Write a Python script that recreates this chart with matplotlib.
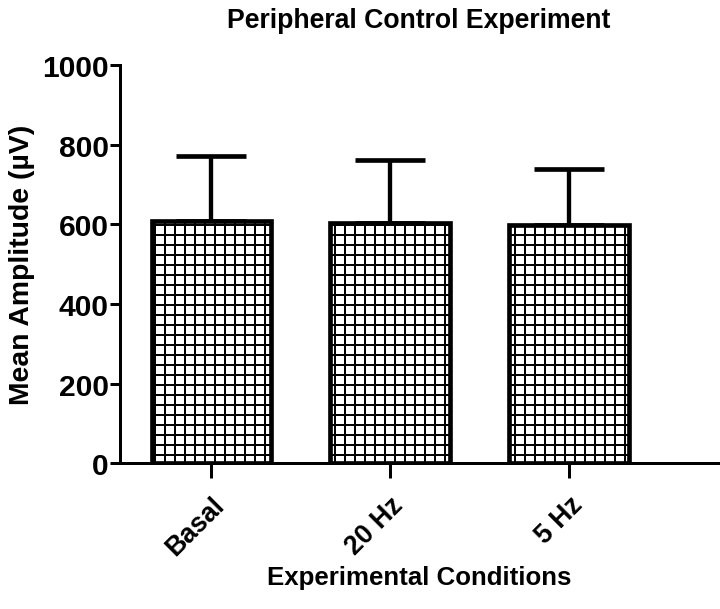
import numpy as np
from matplotlib import pyplot as plt

# values
conditions = ["Basal", "20 Hz", "5 Hz"]
means = [608, 603, 598]
sems = [163, 158, 141]

plt.rcParams['font.family'] = ['Liberation Sans', 'DejaVu Sans']
plt.rcParams['font.weight'] = 'bold'
plt.rcParams['hatch.linewidth'] = 1.2

fig = plt.figure(figsize=(6.0, 6.1 * 6.0 / 7.2), dpi=120)
ax = fig.add_axes([0.167, 0.239, 0.83, 0.653])

x = np.arange(len(conditions))
ax.bar(x, means, width=0.67, color='white', edgecolor='black', linewidth=2.8,
       hatch='++', zorder=2)
ax.errorbar(x, means, yerr=[np.zeros(len(sems)), sems], fmt='none', ecolor='black',
            elinewidth=2.6, capsize=21, capthick=2.8, zorder=1)

ax.set_xlim(-0.51, 2.83)
ax.set_ylim(0, 1000)
ax.set_yticks([0, 200, 400, 600, 800, 1000])
ax.set_xticks(x)
ax.set_xticklabels(conditions, rotation=45, ha='right', rotation_mode='anchor')

for s in ['top', 'right']:
    ax.spines[s].set_visible(False)
for s in ['left', 'bottom']:
    ax.spines[s].set_linewidth(1.8)
ax.tick_params(axis='y', length=6, width=1.8, labelsize=18, pad=1)
ax.tick_params(axis='x', length=9, width=1.8, labelsize=16, pad=8)

ax.set_title("Peripheral Control Experiment", fontsize=16, fontweight='bold', pad=23)
ax.set_xlabel("Experimental Conditions", fontsize=15.5, fontweight='bold', labelpad=3)
ax.set_ylabel("Mean Amplitude (\u00b5V)", fontsize=17, fontweight='bold', labelpad=4)

fig.savefig("out.png", dpi=120)
